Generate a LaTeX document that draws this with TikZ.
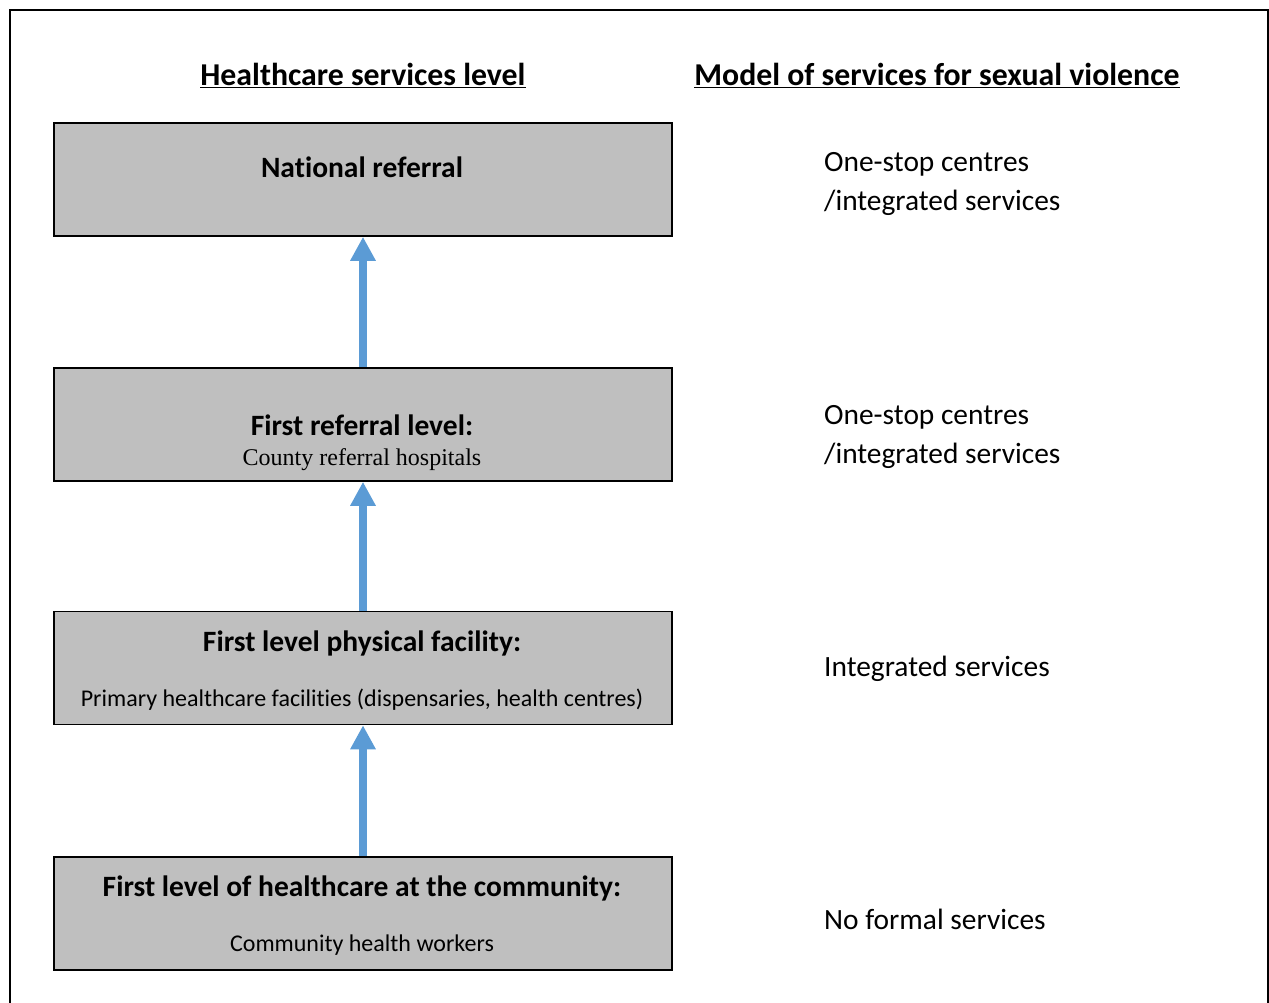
\documentclass[tikz,border=0pt]{standalone}
\usepackage{fontspec}
\setmainfont{Carlito}[Ligatures=NoCommon]
\newfontfamily\serifface{Liberation Serif}
\usetikzlibrary{arrows.meta}
\definecolor{boxgray}{HTML}{BFBFBF}
\definecolor{arrowblue}{HTML}{5B9BD5}
\tikzset{
  x=1pt,y=-1pt,
  levelbox/.style={draw=black,line width=1.6pt,fill=boxgray,minimum width=618pt,minimum height=113pt,inner sep=0pt},
  head/.style={font=\fontsize{31.8}{36}\selectfont\bfseries,inner sep=0pt,anchor=base},
  title/.style={font=\fontsize{29.5}{34}\selectfont\bfseries,inner sep=0pt,anchor=base},
  sub/.style={font=\fontsize{24}{28}\selectfont,inner sep=0pt,anchor=base},
  right/.style={font=\fontsize{29.4}{34}\selectfont,inner sep=0pt,anchor=base west},
  uparrow/.style={draw=arrowblue,line width=8pt,-{Triangle[length=24pt,width=24pt]}}
}
\begin{document}
\begin{tikzpicture}
\useasboundingbox (0,0) rectangle (1269,1003);
\draw[line width=2pt] (10,1010) -- (10,10) -- (1268,10) -- (1268,1010);
% headers
\node[head] (h1) at (363,85.5) {\underline{Healthcare services level}};
\node[head] (h2) at (937,85.5) {\underline{Model of services for sexual violence}};
% boxes
\node[levelbox] (b1) at (363,179.5) {};
\node[levelbox] (b2) at (363,424.5) {};
\node[levelbox] (b3) at (363,668) {};
\node[levelbox] (b4) at (363,913.5) {};
% box texts
\node[title] (t1) at (362,177.5) {National referral};
\node[title] (t2) at (362,435.5) {First referral level:};
\node[sub,font=\fontsize{24}{28}\selectfont\serifface] (s2) at (362,465) {County referral hospitals};
\node[title] (t3) at (362,651.5) {First level physical facility:};
\node[sub] (s3) at (362,706) {Primary healthcare facilities (dispensaries, health centres)};
\node[title] (t4) at (362,896.5) {First level of healthcare at the community:};
\node[sub] (s4) at (362,951) {Community health workers};
% arrows
\draw[uparrow] (b2.north) -- (b1.south);
\draw[uparrow] (b3.north) -- (b2.south);
\draw[uparrow] (b4.north) -- (b3.south);
% right column
\node[right] (r1a) at (824,171.5) {One-stop centres};
\node[right] (r1b) at (824,210.5) {/integrated services};
\node[right] (r2a) at (824,424.5) {One-stop centres};
\node[right] (r2b) at (824,463.5) {/integrated services};
\node[right] (r3) at (824,676.5) {Integrated services};
\node[right] (r4) at (824,929.5) {No formal services};
\end{tikzpicture}
\end{document}
